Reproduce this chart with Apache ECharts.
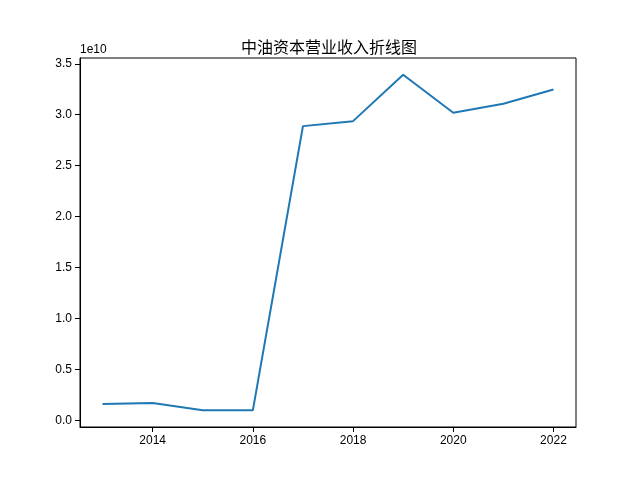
<!DOCTYPE html>
<html><head><meta charset="utf-8">
<script src="https://cdn.jsdelivr.net/npm/echarts@6/dist/echarts.min.js"></script>
<style>html,body{margin:0;padding:0;background:#fff}#c{width:640px;height:480px}</style>
</head><body><div id="c"></div>
<script>
const years = [2013, 2014, 2015, 2016, 2017, 2018, 2019, 2020, 2021, 2022];
const revenue = [1.60e9, 1.70e9, 0.98e9, 0.97e9, 2.888e10, 2.937e10, 3.392e10, 3.020e10, 3.108e10, 3.248e10];
const xTicks = [2014, 2016, 2018, 2020, 2022];
const yTicks = [0, 0.5e10, 1.0e10, 1.5e10, 2.0e10, 2.5e10, 3.0e10, 3.5e10];
const titleText = '中油资本营业收入折线图';
const offsetText = '1e10';

const chart = echarts.init(document.getElementById('c'), null, {renderer: 'canvas'});
const tickFont = {fontFamily: 'Liberation Sans, Arial, sans-serif', fontSize: 12, color: '#000'};
chart.setOption({
  animation: false,
  backgroundColor: '#fff',
  title: {text: titleText, left: 324, textAlign: 'center', top: 34,
    textStyle: {fontFamily: 'Noto Sans CJK SC', fontSize: 16, fontWeight: 'normal', color: '#000'}},
  grid: {left: 80, right: 64, top: 58, bottom: 53, show: true, borderColor: '#000', borderWidth: 1, containLabel: false},
  xAxis: {
    type: 'value', min: 2012.55, max: 2022.45,
    splitLine: {show: false},
    axisLine: {show: true, onZero: false, lineStyle: {color: '#000', width: 1}},
    axisTick: {show: true, length: 5, lineStyle: {color: '#000'}, customValues: xTicks},
    axisLabel: Object.assign({margin: 8, customValues: xTicks, formatter: v => String(v)}, tickFont)
  },
  yAxis: {
    type: 'value', min: -0.0667e10, max: 3.557e10,
    name: offsetText, nameLocation: 'end', nameGap: 2,
    nameTextStyle: Object.assign({align: 'left', verticalAlign: 'bottom'}, tickFont),
    splitLine: {show: false},
    axisLine: {show: true, onZero: false, lineStyle: {color: '#000', width: 1}},
    axisTick: {show: true, length: 5, lineStyle: {color: '#000'}, customValues: yTicks},
    axisLabel: Object.assign({margin: 8, customValues: yTicks, formatter: v => (v / 1e10).toFixed(1)}, tickFont)
  },
  series: [{
    type: 'line', showSymbol: false, symbol: 'none',
    data: years.map((y, i) => [y, revenue[i]]),
    lineStyle: {color: '#1f77b4', width: 2},
    itemStyle: {color: '#1f77b4'}
  }]
});
</script></body></html>
